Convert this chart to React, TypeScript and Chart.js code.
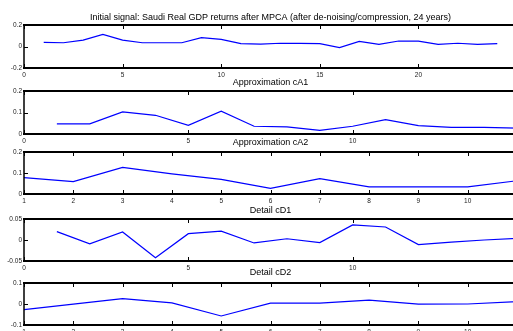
import React, { useEffect, useRef } from "react";
import { Chart, registerables } from "chart.js";

Chart.register(...registerables);

// ---- data ----
const signalValues = [0.039, 0.035, 0.06, 0.113, 0.06, 0.035, 0.035, 0.035, 0.082, 0.067, 0.026, 0.022, 0.03, 0.03, 0.026, -0.011, 0.048, 0.02, 0.051, 0.05, 0.02, 0.03, 0.02, 0.026];
const cA1Values = [0.047, 0.047, 0.103, 0.087, 0.04, 0.106, 0.036, 0.033, 0.017, 0.036, 0.067, 0.039, 0.031, 0.031, 0.027];
const cA2Values = [0.078, 0.059, 0.127, 0.096, 0.07, 0.027, 0.073, 0.034, 0.034, 0.034, 0.063];
const cD1Values = [0.02, -0.009, 0.019, -0.042, 0.015, 0.021, -0.007, 0.003, -0.006, 0.036, 0.031, -0.011, -0.005, 0.0, 0.004];
const cD2Values = [-0.027, -0.001, 0.026, 0.005, -0.057, 0.004, 0.004, 0.018, -0.001, 0.0, 0.011];

const signalXTicks = [0, 5, 10, 15, 20];
const cA1XTicks = [0, 5, 10];
const cA2XTicks = [1, 2, 3, 4, 5, 6, 7, 8, 9, 10];
const cD1XTicks = [0, 5, 10];
const cD2XTicks = [1, 2, 3, 4, 5, 6, 7, 8, 9, 10];

const signalYTicks = [-0.2, 0, 0.2];
const cA1YTicks = [0, 0.1, 0.2];
const cA2YTicks = [0, 0.1, 0.2];
const cD1YTicks = [-0.05, 0, 0.05];
const cD2YTicks = [-0.1, 0, 0.1];

const titles = [
  "Initial signal: Saudi Real GDP returns after MPCA (after de-noising/compression, 24 years)",
  "Approximation cA1",
  "Approximation cA2",
  "Detail cD1",
  "Detail cD2",
];

// ---- layout (pixels) ----
const CANVAS_W = 540;
const AXIS_LEFT = 24;
const AXIS_RIGHT = 517;
const PAD_TOP = 26;
const XAXIS_H = 14;

type PanelDef = {
  title: string;
  values: number[];
  xMin: number;
  xMax: number;
  xTicks: number[];
  yMin: number;
  yMax: number;
  yTicks: number[];
  top: number;
  bottom: number;
  titleBaseline: number;
};

const panels: PanelDef[] = [
  { title: titles[0], values: signalValues, xMin: 0, xMax: 25, xTicks: signalXTicks, yMin: -0.2, yMax: 0.2, yTicks: signalYTicks, top: 25, bottom: 68, titleBaseline: 20 },
  { title: titles[1], values: cA1Values, xMin: 0, xMax: 15, xTicks: cA1XTicks, yMin: 0, yMax: 0.2, yTicks: cA1YTicks, top: 91, bottom: 134, titleBaseline: 84.5 },
  { title: titles[2], values: cA2Values, xMin: 1, xMax: 11, xTicks: cA2XTicks, yMin: 0, yMax: 0.2, yTicks: cA2YTicks, top: 152, bottom: 194, titleBaseline: 144.5 },
  { title: titles[3], values: cD1Values, xMin: 0, xMax: 15, xTicks: cD1XTicks, yMin: -0.05, yMax: 0.05, yTicks: cD1YTicks, top: 219, bottom: 261, titleBaseline: 212.5 },
  { title: titles[4], values: cD2Values, xMin: 1, xMax: 11, xTicks: cD2XTicks, yMin: -0.1, yMax: 0.1, yTicks: cD2YTicks, top: 283, bottom: 325, titleBaseline: 275 },
];

const FONT = '"Liberation Sans", Arial, Helvetica, sans-serif';

function Panel({ def }: { def: PanelDef }) {
  const ref = useRef<HTMLCanvasElement | null>(null);
  const canvasTop = def.top - PAD_TOP;
  const canvasH = PAD_TOP + (def.bottom - def.top) + XAXIS_H;

  useEffect(() => {
    if (!ref.current) return;
    const boxPlugin = {
      id: "matlabBox",
      afterDraw(chart: any) {
        const { ctx, chartArea: a, scales } = chart;
        const xs = scales.x;
        const ys = scales.y;
        ctx.save();
        ctx.strokeStyle = "#000";
        ctx.lineWidth = 1;
        ctx.beginPath();
        for (const t of xs.ticks) {
          const px = Math.round(xs.getPixelForValue(t.value)) + 0.5;
          ctx.moveTo(px, a.top);
          ctx.lineTo(px, a.top + 4);
          ctx.moveTo(px, a.bottom);
          ctx.lineTo(px, a.bottom - 4);
        }
        for (const t of ys.ticks) {
          const py = Math.round(ys.getPixelForValue(t.value)) + 0.5;
          ctx.moveTo(a.left, py);
          ctx.lineTo(a.left + 4, py);
          ctx.moveTo(a.right, py);
          ctx.lineTo(a.right - 4, py);
        }
        ctx.stroke();
        ctx.lineWidth = 2;
        ctx.beginPath();
        ctx.moveTo(a.left - 1, a.top);
        ctx.lineTo(a.right, a.top);
        ctx.moveTo(a.left - 1, a.bottom);
        ctx.lineTo(a.right, a.bottom);
        ctx.stroke();
        ctx.lineWidth = 1.5;
        ctx.beginPath();
        ctx.moveTo(a.left, a.top);
        ctx.lineTo(a.left, a.bottom);
        ctx.moveTo(a.right, a.top);
        ctx.lineTo(a.right, a.bottom);
        ctx.stroke();
        ctx.fillStyle = "#000";
        ctx.font = `9px ${FONT}`;
        ctx.textAlign = "center";
        ctx.textBaseline = "alphabetic";
        ctx.fillText(def.title, (a.left + a.right) / 2, def.titleBaseline - canvasTop);
        ctx.restore();
      },
    };

    const chart = new Chart(ref.current, {
      type: "line",
      data: {
        datasets: [
          {
            data: def.values.map((v, i) => ({ x: i + 1, y: v })),
            borderColor: "#0000ff",
            borderWidth: 1.2,
            pointRadius: 0,
            tension: 0,
            fill: false,
          },
        ],
      },
      options: {
        responsive: false,
        animation: false,
        events: [],
        layout: { padding: { top: PAD_TOP, left: 0, right: CANVAS_W - AXIS_RIGHT, bottom: 0 } },
        plugins: { legend: { display: false }, title: { display: false }, tooltip: { enabled: false } },
        scales: {
          x: {
            type: "linear",
            min: def.xMin,
            max: def.xMax,
            afterBuildTicks: (s: any) => {
              s.ticks = def.xTicks.map((v) => ({ value: v }));
            },
            afterFit: (s: any) => {
              s.height = XAXIS_H;
            },
            grid: { display: false, drawTicks: false },
            border: { display: false },
            ticks: {
              autoSkip: false,
              maxRotation: 0,
              padding: 3,
              color: "#222",
              font: { family: FONT, size: 6.5 },
              callback: (v: any) => String(v),
            },
          },
          y: {
            type: "linear",
            min: def.yMin,
            max: def.yMax,
            afterBuildTicks: (s: any) => {
              s.ticks = def.yTicks.map((v) => ({ value: v }));
            },
            afterFit: (s: any) => {
              s.width = AXIS_LEFT;
            },
            grid: { display: false, drawTicks: false },
            border: { display: false },
            ticks: {
              autoSkip: false,
              padding: 2,
              color: "#222",
              font: { family: FONT, size: 6.5 },
              callback: (v: any) => String(v),
            },
          },
        },
      },
      plugins: [boxPlugin],
    } as any);
    return () => chart.destroy();
  }, [def]);

  return (
    <canvas
      ref={ref}
      width={CANVAS_W}
      height={canvasH}
      style={{ position: "absolute", left: 0, top: canvasTop, width: CANVAS_W, height: canvasH }}
    />
  );
}

export default function App() {
  return (
    <div
      style={{
        position: "fixed",
        left: 0,
        top: 0,
        width: 513,
        height: 331,
        overflow: "hidden",
        background: "#fff",
      }}
    >
      {panels.map((p, i) => (
        <Panel key={i} def={p} />
      ))}
    </div>
  );
}
